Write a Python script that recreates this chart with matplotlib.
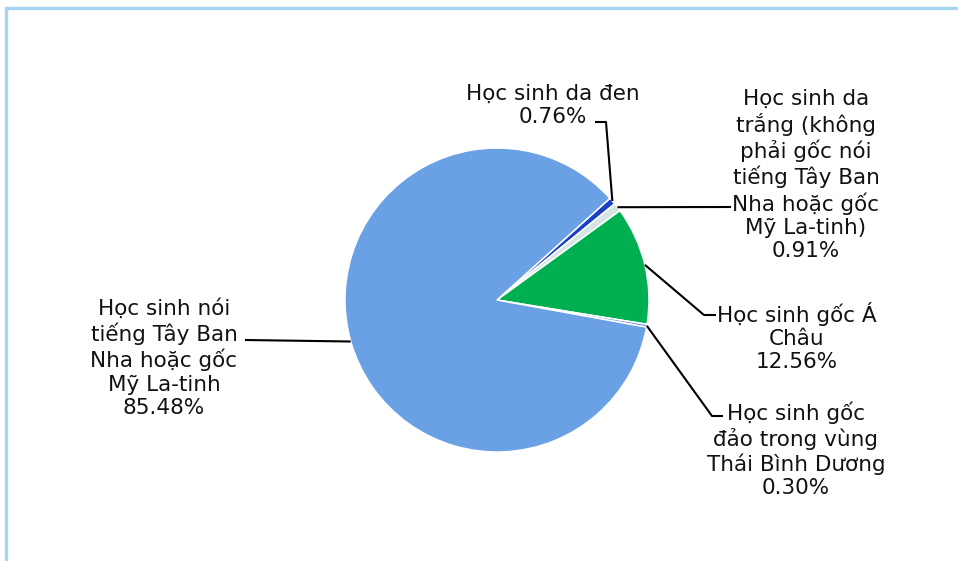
#!/usr/bin/env python3
"""
Pie chart: student composition (Vietnamese labels)
Output: out.png
"""

import numpy as np
import matplotlib.pyplot as plt
from matplotlib.patches import Rectangle

# =====================================
# Data
# =====================================
LABELS = [
    "Học sinh da đen",
    "Học sinh da\ntrắng (không\nphải gốc nói\ntiếng Tây Ban\nNha hoặc gốc\nMỹ La-tinh)",
    "Học sinh gốc Á\nChâu",
    "Học sinh gốc\nđảo trong vùng\nThái Bình Dương",
    "Học sinh nói\ntiếng Tây Ban\nNha hoặc gốc\nMỹ La-tinh",
]
VALUES = [0.76, 0.91, 12.56, 0.30, 85.48]
COLORS = ["#1b3fc6", "#d3e6e2", "#00b050", "#6f8fe8", "#6aa1e4"]

# label text centre and leader-line knee, in pixels (x, y from top)
TEXT_POS = [(553, 105), (806, 175), (797, 337), (796, 450), (164, 358)]
KNEE_POS = [[(606, 122), (595, 122)],
            [(731, 207)],
            [(704, 315), (716, 315)],
            [(712, 416), (723, 416)],
            [(245, 340)]]

W, H = 958, 561
CX, CY, R = 497, 300, 152
FONT = 15.5

# =====================================
# Plot
# =====================================
fig = plt.figure(figsize=(W / 100, H / 100), dpi=100)
ax = fig.add_axes([0, 0, 1, 1])


def py(y):
    return H - y


wedges, _ = ax.pie(VALUES, colors=COLORS, startangle=42, counterclock=False,
                   center=(CX, py(CY)), radius=R, frame=True,
                   wedgeprops=dict(edgecolor="white", linewidth=1.1))
ax.set_xlim(0, W)
ax.set_ylim(0, H)
ax.set_aspect("equal")
ax.axis("off")

for w, lab, val, tpos, knees in zip(wedges, LABELS, VALUES, TEXT_POS, KNEE_POS):
    ang = np.deg2rad((w.theta1 + w.theta2) / 2)
    sx = CX + R * np.cos(ang)
    sy = py(CY) + R * np.sin(ang)
    xs = [sx] + [k[0] for k in knees]
    ys = [sy] + [py(k[1]) for k in knees]
    ax.plot(xs, ys, color="black", linewidth=1.5, solid_capstyle="butt")
    ax.text(tpos[0], py(tpos[1]), f"{lab}\n{val:.2f}%", ha="center",
            va="center", fontsize=FONT, color="#111111",
            family="DejaVu Sans", linespacing=1.2)

# light blue chart border (right and bottom edges fall outside the image)
fig.patches.append(Rectangle((6 / W, -0.1), 1.2, (H - 8) / H + 0.1,
                             transform=fig.transFigure, fill=False,
                             edgecolor="#a6d5f3", linewidth=2.4))

fig.savefig("out.png", dpi=100)
plt.close(fig)
